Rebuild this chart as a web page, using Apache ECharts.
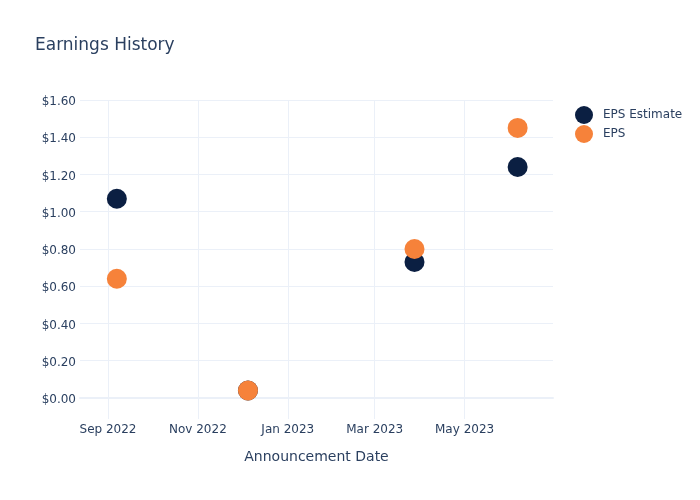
<!DOCTYPE html>
<html>
<head>
<meta charset="utf-8">
<script src="https://cdn.jsdelivr.net/npm/echarts@6/dist/echarts.min.js"></script>
<style>html,body{margin:0;padding:0;background:#fff;}#c{width:700px;height:500px;}</style>
</head>
<body>
<div id="c"></div>
<script>
const dates = ['2022-09-07', '2022-12-05', '2023-03-28', '2023-06-06'];
const epsEstimate = [1.07, 0.04, 0.73, 1.24];
const eps = [0.64, 0.04, 0.80, 1.45];
const xTickDates = ['2022-09-01', '2022-11-01', '2023-01-01', '2023-03-01', '2023-05-01'];
const yTicks = [0, 0.2, 0.4, 0.6, 0.8, 1.0, 1.2, 1.4, 1.6];
const xRange = ['2022-08-13', '2023-06-30'];
const yRange = [-0.113, 1.6];

const months = ['Jan','Feb','Mar','Apr','May','Jun','Jul','Aug','Sep','Oct','Nov','Dec'];
const ts = s => { const p = s.split('-').map(Number); return Date.UTC(p[0], p[1]-1, p[2]); };
const font = '"DejaVu Sans", sans-serif';
const txt = '#2a3f5f';
const grid = '#EBF0F8';

const chart = echarts.init(document.getElementById('c'), null, {renderer: 'canvas'});
chart.setOption({
  animation: false,
  backgroundColor: '#fff',
  title: {
    text: 'Earnings History', left: 30, top: 32,
    textStyle: {fontFamily: font, fontSize: 17, fontWeight: 'normal', color: txt}
  },
  legend: {
    orient: 'vertical', left: 570, top: 101, itemWidth: 18, itemHeight: 18, itemGap: 1,
    icon: 'circle',
    textStyle: {fontFamily: font, fontSize: 12, color: txt, padding: [0, 0, 0, 5]},
    data: ['EPS Estimate', 'EPS']
  },
  grid: {left: 80, right: 147, top: 100, bottom: 81, containLabel: false},
  xAxis: [{
    type: 'value',
    min: ts(xRange[0]), max: ts(xRange[1]),
    name: 'Announcement Date', nameLocation: 'middle', nameGap: 31,
    nameTextStyle: {fontFamily: font, fontSize: 14, color: txt},
    axisLine: {show: false, onZero: false},
    axisTick: {show: false, customValues: xTickDates.map(ts)},
    axisLabel: {
      customValues: xTickDates.map(ts), margin: 5,
      fontFamily: font, fontSize: 12, color: txt,
      formatter: v => { const d = new Date(v); return months[d.getUTCMonth()] + ' ' + d.getUTCFullYear(); }
    },
    splitLine: {show: true, lineStyle: {color: grid, width: 1}}
  }, {
    type: 'value', position: 'bottom', min: 0, max: 1,
    axisLine: {show: true, onZero: true, onZeroAxisIndex: 0, lineStyle: {color: grid, width: 2}},
    axisTick: {show: false}, axisLabel: {show: false}, splitLine: {show: false}
  }],
  yAxis: {
    type: 'value', min: yRange[0], max: yRange[1],
    axisLine: {show: false}, axisTick: {show: false, customValues: yTicks},
    axisLabel: {
      customValues: yTicks, margin: 4,
      fontFamily: font, fontSize: 12, color: txt,
      formatter: v => '{v|$' + v.toFixed(2) + '}',
      rich: {v: {fontFamily: font, fontSize: 12, color: txt, padding: [4, 0, 0, 0]}}
    },
    splitLine: {show: true, lineStyle: {color: grid, width: 1}}
  },
  series: [{
    name: 'EPS Estimate', type: 'scatter', symbolSize: 20,
    itemStyle: {color: '#0b1f42', opacity: 1},
    data: dates.map((d, i) => [ts(d), epsEstimate[i]])
  }, {
    name: 'EPS', type: 'scatter', symbolSize: 20,
    itemStyle: {color: '#f6823a', opacity: 1},
    data: dates.map((d, i) => [ts(d), eps[i]])
  }]
});
</script>
</body>
</html>
